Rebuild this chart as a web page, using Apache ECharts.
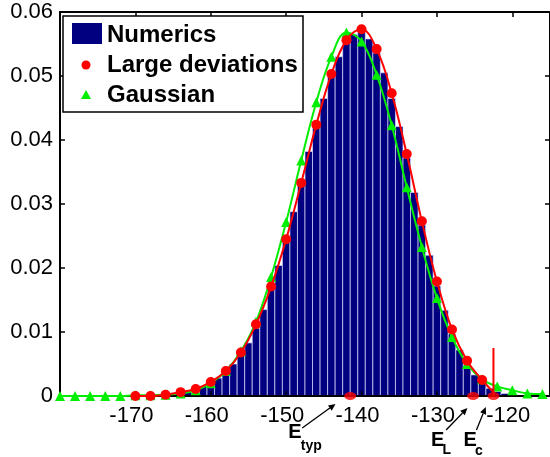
<!DOCTYPE html>
<html>
<head>
<meta charset="utf-8">
<script src="https://cdn.jsdelivr.net/npm/echarts@6/dist/echarts.min.js"></script>
<style>
  html, body { margin: 0; padding: 0; background: #fff; }
  #chart { width: 550px; height: 457px; }
</style>
</head>
<body>
<div id="chart"></div>
<script>
// Histogram of sampled energies (bin centres, bin width 1)
const binCenters = [-167, -166, -165, -164, -163, -162, -161, -160, -159, -158, -157, -156, -155, -154,
  -153, -152, -151, -150, -149, -148, -147, -146, -145, -144, -143, -142, -141, -140, -139, -138,
  -137, -136, -135, -134, -133, -132, -131, -130, -129, -128, -127, -126, -125, -124, -123, -122,
  -121, -120, -119];
const binValues = [0.0001, 0.0002, 0.0003, 0.0005, 0.0007, 0.0010, 0.0015, 0.0020, 0.0028, 0.0037,
  0.0050, 0.0065, 0.0083, 0.0106, 0.0135, 0.0167, 0.0204, 0.0243, 0.0288, 0.0336, 0.0382, 0.0422,
  0.0465, 0.0500, 0.0530, 0.0552, 0.0565, 0.0568, 0.0558, 0.0536, 0.0505, 0.0465, 0.0421, 0.0372,
  0.0318, 0.0267, 0.0220, 0.0172, 0.0134, 0.0097, 0.0072, 0.0048, 0.0033, 0.0020, 0.0012, 0.0007,
  0.0004, 0.0002, 0.0001];

// Large-deviation prediction
const ldX = [-170, -168, -166, -164, -162, -160, -158, -156, -154, -152, -150, -148, -146, -144,
  -142, -140, -138, -136, -134, -132, -130, -128, -126, -124];
const ldY = [0, 0, 0.0002, 0.0006, 0.0011, 0.0022, 0.0039, 0.0068, 0.0112, 0.0171, 0.0245, 0.0333,
  0.0424, 0.0503, 0.0556, 0.0573, 0.0542, 0.0473, 0.0378, 0.0273, 0.0179, 0.0104, 0.0055, 0.0025];
// the prediction curve ends at E_c
const ldEnd = [-122.5, 0.0006];

// Gaussian approximation
const gaussX = [-180, -178, -176, -174, -172, -170, -168, -166, -164, -162, -160, -158, -156, -154,
  -152, -150, -148, -146, -144, -142, -140, -138, -136, -134, -132, -130, -128, -126, -124, -122,
  -120, -118, -116];
const gaussY = [0, 0, 0, 0, 0, 0.0001, 0.0001, 0.0002, 0.0004, 0.0009, 0.0020, 0.0039, 0.0070,
  0.0116, 0.0186, 0.0272, 0.0368, 0.0459, 0.0530, 0.0568, 0.0554, 0.0502, 0.0423, 0.0326, 0.0233,
  0.0153, 0.0092, 0.0050, 0.0026, 0.0015, 0.0009, 0.0004, 0.0003];

// Characteristic energies marked on the axis
const markNames = ['typ', 'L', 'c'];
const markEnergies = [-141.5, -125.2, -122.5];
const cutoffHeight = 0.0075;   // vertical marker at E_c

const legendNames = ['Numerics', 'Large deviations', 'Gaussian'];

const NAVY = '#000080', RED = '#ff0000', GREEN = '#00ee00';
const FONT = '"Liberation Sans", Arial, sans-serif';

const chart = echarts.init(document.getElementById('chart'), null, { renderer: 'canvas' });

function renderBar(params, api) {
  const x = api.value(0), y = api.value(1);
  const p0 = api.coord([x - 0.5, y]);
  const p1 = api.coord([x + 0.5, 0]);
  return {
    type: 'rect',
    shape: { x: p0[0], y: p0[1], width: p1[0] - p0[0], height: p1[1] - p0[1] },
    style: { fill: NAVY, stroke: 'rgba(225,225,255,0.75)', lineWidth: 0.9 }
  };
}

const xCommon = {
  type: 'value', min: -180, max: -115, interval: 10,
  splitLine: { show: false },
  axisLine: { onZero: false, lineStyle: { color: '#000', width: 2 } },
  axisTick: { inside: true, length: 5, lineStyle: { color: '#000', width: 1.5 } }
};
const yCommon = {
  type: 'value', min: 0, max: 0.06, interval: 0.01,
  splitLine: { show: false },
  axisLine: { lineStyle: { color: '#000', width: 2 } },
  axisTick: { inside: true, length: 5, lineStyle: { color: '#000', width: 1.5 } }
};

chart.setOption({
  animation: false,
  backgroundColor: '#fff',
  grid: { left: 60, right: -4, top: 12, bottom: 61, containLabel: false },
  xAxis: [
    Object.assign({}, xCommon, {
      position: 'bottom', z: 5,
      axisLabel: {
        fontFamily: FONT, fontSize: 22, color: '#000', margin: 9,
        padding: [0, 8, 0, 0], showMinLabel: false, showMaxLabel: false,
        formatter: v => (v >= -170 && v <= -120 && v % 10 === 0) ? String(v) : ''
      }
    }),
    Object.assign({}, xCommon, { position: 'top', axisLabel: { show: false } })
  ],
  yAxis: [
    Object.assign({}, yCommon, {
      position: 'left', z: 5,
      axisLabel: {
        fontFamily: FONT, fontSize: 22, color: '#000', margin: 7,
        formatter: v => v === 0 ? '0' : v.toFixed(2)
      }
    }),
    Object.assign({}, yCommon, { position: 'right', axisLabel: { show: false } })
  ],
  series: [
    {
      name: legendNames[0], type: 'custom', z: 2,
      renderItem: renderBar,
      encode: { x: 0, y: 1 },
      data: binCenters.map((c, i) => [c, binValues[i]])
    },
    {
      name: legendNames[2], type: 'line', z: 6,
      smooth: 0.4,
      symbol: 'triangle', symbolSize: 10,
      lineStyle: { color: GREEN, width: 2 },
      itemStyle: { color: GREEN },
      data: gaussX.map((x, i) => [x, gaussY[i]])
    },
    {
      name: legendNames[1], type: 'line', z: 7,
      smooth: 0.4,
      symbol: 'circle', symbolSize: 10,
      lineStyle: { color: RED, width: 2 },
      itemStyle: { color: RED },
      data: ldX.map((x, i) => [x, ldY[i]]).concat([{ value: ldEnd, symbol: 'none' }])
    },
    {
      name: 'cutoff', type: 'line', z: 7,
      symbol: 'none',
      lineStyle: { color: RED, width: 2 },
      data: [[markEnergies[2], 0], [markEnergies[2], cutoffHeight]]
    },
    {
      name: 'energies', type: 'scatter', z: 8,
      symbol: 'circle', symbolSize: [12, 8],
      itemStyle: { color: RED },
      data: markEnergies.map(e => [e, 0])
    }
  ]
});

// Legend box, drawn with graphic elements
const graphics = [
  { type: 'rect', shape: { x: 63, y: 16, width: 240, height: 96 }, z: 20,
    style: { fill: '#fff', stroke: '#000', lineWidth: 1.5 } },
  { type: 'rect', shape: { x: 72, y: 23, width: 30, height: 21 }, z: 21, style: { fill: NAVY } },
  { type: 'circle', shape: { cx: 86, cy: 65, r: 4.5 }, z: 21, style: { fill: RED } },
  { type: 'polygon', shape: { points: [[86, 90], [81, 99], [91, 99]] }, z: 21, style: { fill: GREEN } }
];
[35, 65, 95].forEach((yy, i) => {
  graphics.push({
    type: 'text', x: 107, y: yy, z: 21,
    style: { text: legendNames[i], font: 'bold 24px ' + FONT, fill: '#000',
             textAlign: 'left', textVerticalAlign: 'middle' }
  });
});

// Energy labels with arrows pointing at the axis
const arrowGeom = [
  { head: [-14.7, 8], tail: [-48, 32], label: [-62, 432], sub: [-49.5, 446] },
  { head: [-5.7, 12], tail: [-27, 34], label: [-42, 440], sub: [-30.5, 450] },
  { head: [-7.7, 11], tail: [-17, 34], label: [-30, 440], sub: [-18.5, 451] }
];
markEnergies.forEach((e, i) => {
  const p = chart.convertToPixel({ xAxisIndex: 0, yAxisIndex: 0 }, [e, 0]);
  const g = arrowGeom[i];
  const hx = p[0] + g.head[0], hy = p[1] + g.head[1];
  const tx = p[0] + g.tail[0], ty = p[1] + g.tail[1];
  const ang = Math.atan2(hy - ty, hx - tx);
  const L = 7, W = 3.2;
  const bx = hx - L * Math.cos(ang), by = hy - L * Math.sin(ang);
  graphics.push({ type: 'line', z: 21,
    shape: { x1: tx, y1: ty, x2: bx, y2: by }, style: { stroke: '#000', lineWidth: 1.3 } });
  graphics.push({ type: 'polygon', z: 21,
    shape: { points: [[hx, hy],
      [bx + W * Math.sin(ang), by - W * Math.cos(ang)],
      [bx - W * Math.sin(ang), by + W * Math.cos(ang)]] },
    style: { fill: '#000' } });
  graphics.push({ type: 'text', z: 21, x: p[0] + g.label[0], y: g.label[1],
    style: { text: 'E', font: 'bold 20px ' + FONT, fill: '#000',
             textAlign: 'left', textVerticalAlign: 'middle' } });
  graphics.push({ type: 'text', z: 21, x: p[0] + g.sub[0], y: g.sub[1],
    style: { text: markNames[i], font: 'bold 14px ' + FONT, fill: '#000',
             textAlign: 'left', textVerticalAlign: 'middle' } });
});

chart.setOption({ graphic: graphics });
</script>
</body>
</html>
